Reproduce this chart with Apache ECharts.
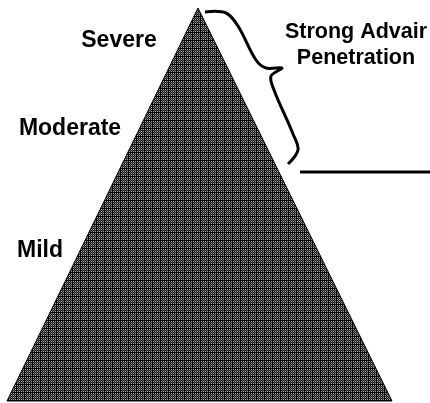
<!DOCTYPE html>
<html>
<head>
<meta charset="utf-8">
<script src="https://cdn.jsdelivr.net/npm/echarts@6/dist/echarts.min.js"></script>
<style>
html, body { margin: 0; padding: 0; background: #fff; }
#chart { width: 430px; height: 403px; }
</style>
</head>
<body>
<div id="chart"></div>
<script>
// severity levels, top to bottom
var levels = ['Severe', 'Moderate', 'Mild'];
var calloutText = 'Strong Advair\nPenetration';

// pyramid corners (apex, base left, base right) in chart units
var pyramid = [[198, 8], [7, 401], [392, 401]];
// where each level label sits
var levelSpots = [[119, 41], [70, 129], [40, 251]];
// brace beside the top of the pyramid
var brace = [[205, 12], [226, 13], [238, 26], [256, 60], [266, 68], [282, 68],
             [271, 76], [274, 90], [293, 134], [298, 150], [288, 164]];
var cutLine = [[300, 172], [430, 172]];

var chart = echarts.init(document.getElementById('chart'));

// little tile that gives the pyramid its grid texture
function makeTile() {
	var c = document.createElement('canvas');
	c.width = 8; c.height = 8;
	var ctx = c.getContext('2d');
	ctx.fillStyle = '#141414';
	ctx.fillRect(0, 0, 8, 8);
	ctx.fillStyle = '#a8a8a8';
	for (var y = 1; y < 8; y += 2) {
		for (var x = 1; x < 8; x++) {
			if ((x + y) % 2 === 0) ctx.fillRect(x, y, 1, 1);
		}
	}
	ctx.fillStyle = '#5a5a5a';
	for (var y2 = 2; y2 < 8; y2 += 2) {
		for (var x2 = 2; x2 < 8; x2 += 2) ctx.fillRect(x2, y2, 1, 1);
	}
	ctx.fillStyle = '#000';
	ctx.fillRect(0, 0, 1, 8);
	ctx.fillRect(0, 0, 8, 1);
	return c;
}

var font = 'Liberation Sans, Arial, sans-serif';

var option = {
	animation: false,
	grid: { left: 0, right: 0, top: 0, bottom: 0 },
	xAxis: { type: 'value', min: 0, max: 430, show: false },
	yAxis: { type: 'value', min: 0, max: 403, inverse: true, show: false },
	series: [
		{
			type: 'custom',
			data: [0],
			renderItem: function(params, api) {
				return {
					type: 'polygon',
					shape: { points: pyramid.map(function(p) { return api.coord(p); }) },
					style: { fill: { image: makeTile(), repeat: 'repeat' }, stroke: '#000', lineWidth: 1 }
				};
			}
		},
		{
			type: 'custom',
			data: [0],
			renderItem: function(params, api) {
				return {
					type: 'polyline',
					shape: { points: brace.map(function(p) { return api.coord(p); }), smooth: 0.35 },
					style: { fill: null, stroke: '#000', lineWidth: 3 }
				};
			}
		},
		{
			type: 'line',
			data: cutLine,
			symbol: 'none',
			lineStyle: { color: '#000', width: 3 }
		},
		{
			type: 'custom',
			data: levels.map(function(l, i) { return [levelSpots[i][0], levelSpots[i][1], l]; }),
			renderItem: function(params, api) {
				var p = api.coord([api.value(0), api.value(1)]);
				return {
					type: 'text',
					x: p[0], y: p[1],
					style: {
						text: levels[params.dataIndex],
						font: 'bold 23px ' + font,
						fill: '#000',
						align: 'center',
						verticalAlign: 'middle'
					}
				};
			}
		},
		{
			type: 'custom',
			data: [[356, 45]],
			renderItem: function(params, api) {
				var p = api.coord([api.value(0), api.value(1)]);
				return {
					type: 'text',
					x: p[0], y: p[1],
					style: {
						text: calloutText,
						font: 'bold 21.5px ' + font,
						lineHeight: 26,
						fill: '#000',
						align: 'center',
						verticalAlign: 'middle'
					}
				};
			}
		}
	]
};

chart.setOption(option);
</script>
</body>
</html>
